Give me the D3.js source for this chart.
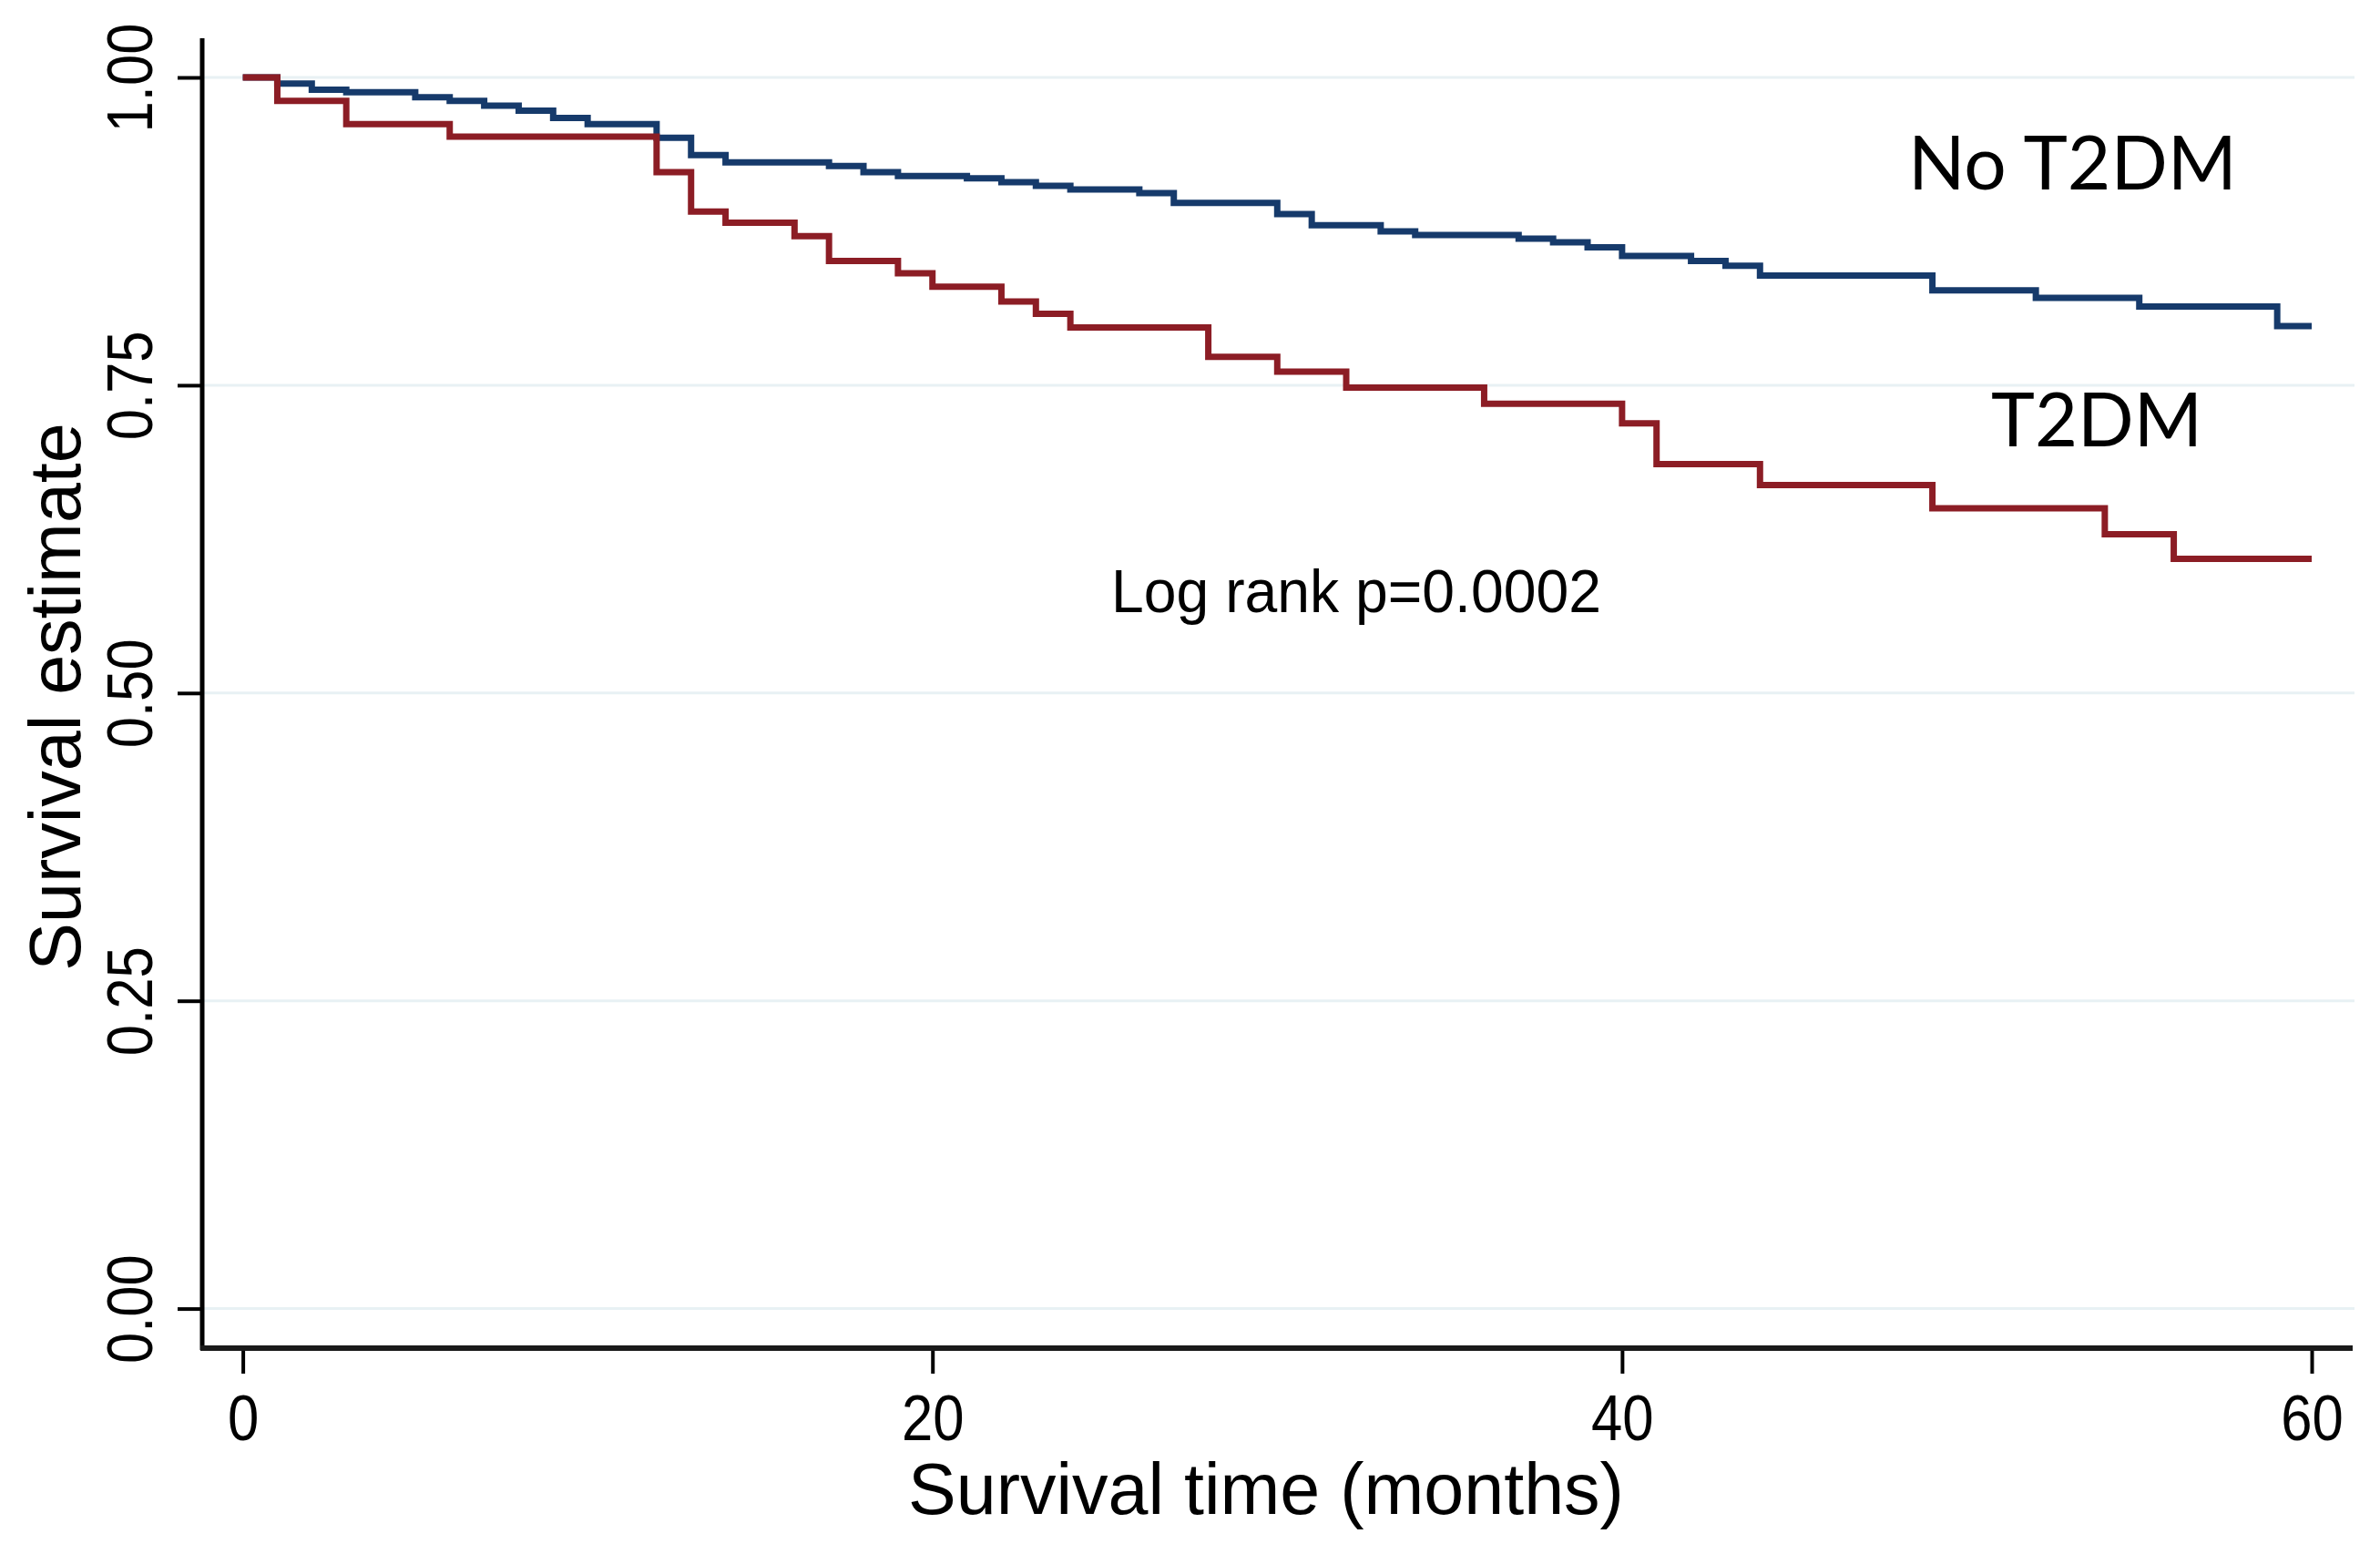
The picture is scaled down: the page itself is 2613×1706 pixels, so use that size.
<!DOCTYPE html>
<html>
<head>
<meta charset="utf-8">
<script src="https://cdn.jsdelivr.net/npm/d3@7"></script>
<style>
  html, body { margin: 0; padding: 0; background: #ffffff; }
  svg { display: block; }
</style>
</head>
<body>
<div id="chart"></div>
<script>
// ---- Data ----
const noT2dmTimes = [0, 1, 2, 3, 5, 6, 7, 8, 9, 10, 12, 13, 14, 17, 18, 19, 21, 22, 23, 24, 26, 27, 30, 31, 33, 34, 37, 38, 39, 40, 42, 43, 44, 49, 52, 55, 59];
const noT2dmSurv  = [1.000, 0.995, 0.990, 0.988, 0.984, 0.981, 0.977, 0.973, 0.967, 0.962, 0.951, 0.937, 0.931, 0.928, 0.923, 0.920, 0.918, 0.915, 0.912, 0.909, 0.906, 0.898, 0.889, 0.880, 0.875, 0.872, 0.869, 0.866, 0.862, 0.855, 0.851, 0.847, 0.839, 0.827, 0.821, 0.814, 0.798];

const t2dmTimes = [0, 1, 3, 6, 12, 13, 14, 16, 17, 19, 20, 22, 23, 24, 28, 30, 32, 36, 40, 41, 44, 49, 54, 56];
const t2dmSurv  = [1.000, 0.981, 0.962, 0.952, 0.923, 0.891, 0.882, 0.871, 0.851, 0.841, 0.830, 0.818, 0.808, 0.797, 0.773, 0.761, 0.748, 0.735, 0.719, 0.686, 0.669, 0.650, 0.629, 0.609];

const followUpEnd = 60;
const seriesNames = ["No T2DM", "T2DM"];
const xTickValues = [0, 20, 40, 60];
const yTickValues = [0, 0.25, 0.5, 0.75, 1];
const xTitle = "Survival time (months)";
const yTitle = "Survival estimate";
const annotation = "Log rank p=0.0002";

// ---- Layout ----
const W = 2613, H = 1706;
const axisX = 222, axisY = 1480;

const svg = d3.select("#chart").append("svg")
  .attr("width", W).attr("height", H)
  .attr("viewBox", `0 0 ${W} ${H}`);

svg.append("rect").attr("width", W).attr("height", H).attr("fill", "#ffffff");

const x = d3.scaleLinear().domain([0, 60]).range([266.6, 2538]);
const y = d3.scaleLinear().domain([0, 1]).range([1436.6, 85]);

// gridlines
svg.append("g").selectAll("line").data(yTickValues).join("line")
  .attr("x1", axisX).attr("x2", 2585)
  .attr("y1", d => y(d)).attr("y2", d => y(d))
  .attr("stroke", "#e8f1f4").attr("stroke-width", 3);

// y axis
const yAxis = d3.axisLeft(y).tickValues(yTickValues).tickSize(27).tickFormat(d3.format(".2f"));
const gy = svg.append("g").attr("transform", `translate(${axisX},0)`).call(yAxis);
gy.select(".domain").remove();
gy.selectAll(".tick line").attr("stroke", "#000").attr("stroke-width", 4);
gy.selectAll(".tick text")
  .attr("font-family", "'Liberation Sans', Arial, sans-serif")
  .attr("font-size", 70)
  .attr("fill", "#000")
  .attr("text-anchor", "middle")
  .attr("x", 0).attr("y", -55).attr("dy", 0)
  .attr("transform", "rotate(-90) scale(0.88,1)");

// x axis
const xAxis = d3.axisBottom(x).tickValues(xTickValues).tickSize(28).tickFormat(d3.format("d"));
const gx = svg.append("g").attr("transform", `translate(0,${axisY})`).call(xAxis);
gx.select(".domain").remove();
gx.selectAll(".tick line").attr("stroke", "#000").attr("stroke-width", 4);
gx.selectAll(".tick text")
  .attr("font-family", "'Liberation Sans', Arial, sans-serif")
  .attr("font-size", 70)
  .attr("fill", "#000")
  .attr("y", 101).attr("dy", 0)
  .attr("transform", "scale(0.88,1)");

// axis lines
svg.append("line").attr("x1", axisX).attr("x2", axisX).attr("y1", 42).attr("y2", axisY + 2)
  .attr("stroke", "#000").attr("stroke-width", 5);
svg.append("line").attr("x1", axisX - 2).attr("x2", 2583).attr("y1", axisY).attr("y2", axisY)
  .attr("stroke", "#1a1a1a").attr("stroke-width", 6);

// curves
const line = d3.line().x(d => x(d[0])).y(d => y(d[1])).curve(d3.curveStepAfter);
function pts(times, surv) {
  const p = times.map((t, i) => [t, surv[i]]);
  p.push([followUpEnd, surv[surv.length - 1]]);
  return p;
}
const series = [
  { name: seriesNames[0], data: pts(noT2dmTimes, noT2dmSurv), color: "#163a6b" },
  { name: seriesNames[1], data: pts(t2dmTimes, t2dmSurv), color: "#8c1d25" }
];
svg.append("g").selectAll("path").data(series).join("path")
  .attr("d", d => line(d.data))
  .attr("fill", "none")
  .attr("stroke", d => d.color)
  .attr("stroke-width", 7)
  .attr("stroke-linejoin", "miter");

// series labels
svg.append("text").attr("x", 2095).attr("y", 208)
  .attr("font-family", "Lato, 'Open Sans', sans-serif").attr("font-size", 81)
  .attr("textLength", 361).attr("lengthAdjust", "spacingAndGlyphs")
  .attr("fill", "#000").text(seriesNames[0]);
svg.append("text").attr("x", 2186).attr("y", 490)
  .attr("font-family", "Lato, 'Open Sans', sans-serif").attr("font-size", 81)
  .attr("textLength", 232).attr("lengthAdjust", "spacingAndGlyphs")
  .attr("fill", "#000").text(seriesNames[1]);

// annotation
svg.append("text").attr("x", 1220).attr("y", 672)
  .attr("font-family", "'Liberation Sans', Arial, sans-serif").attr("font-size", 66)
  .attr("textLength", 538).attr("lengthAdjust", "spacingAndGlyphs")
  .attr("fill", "#000").text(annotation);

// axis titles
svg.append("text").attr("x", 1390).attr("y", 1662)
  .attr("text-anchor", "middle")
  .attr("font-family", "'Liberation Sans', Arial, sans-serif").attr("font-size", 79)
  .attr("fill", "#000").text(xTitle);
svg.append("text")
  .attr("transform", "translate(88,765) rotate(-90)")
  .attr("text-anchor", "middle")
  .attr("font-family", "'Liberation Sans', Arial, sans-serif").attr("font-size", 79)
  .attr("fill", "#000").text(yTitle);
</script>
</body>
</html>
